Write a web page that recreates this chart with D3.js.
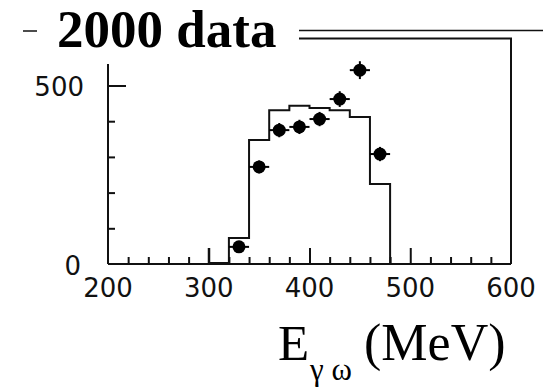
<!DOCTYPE html>
<html>
<head>
<meta charset="utf-8">
<script src="https://cdn.jsdelivr.net/npm/d3@7"></script>
<style>
  body { margin: 0; background: #fff; }
  svg { display: block; }
</style>
</head>
<body>
<svg></svg>
<script>
// MC histogram (20 MeV bins) and 2000 data points
const binEdges = [300, 320, 340, 360, 380, 400, 420, 440, 460, 480];
const mcValues = [3, 73, 347, 431, 443, 437, 431, 412, 224];
const mcStart = 45; // left edge of histogram starts a bit above zero
const dataE = [330, 350, 370, 390, 410, 430, 450, 470];
const dataN = [48, 272, 375, 384, 406, 462, 543, 308];
const dataErr = [12, 18, 20, 20, 20, 22, 25, 20];
const xTickLabels = [200, 300, 400, 500, 600];
const yTickLabels = [0, 500];

const W = 543, H = 390;
const svg = d3.select('svg').attr('width', W).attr('height', H);

const x = d3.scaleLinear().domain([200, 600]).range([108, 511]);
const y = d3.scaleLinear().domain([0, 500]).range([264, 85.5]);

const ink = '#111';

// slide decoration: title and rules
svg.append('text')
  .attr('x', 57).attr('y', 47)
  .attr('font-family', 'Liberation Serif, Times New Roman, serif')
  .attr('font-weight', 'bold')
  .attr('font-size', 53)
  .attr('fill', '#000')
  .text('2000 data');

svg.append('line').attr('x1', 23).attr('x2', 37).attr('y1', 31).attr('y2', 31)
  .attr('stroke', ink).attr('stroke-width', 1.5);
svg.append('line').attr('x1', 299).attr('x2', 543).attr('y1', 30.5).attr('y2', 30.5)
  .attr('stroke', ink).attr('stroke-width', 1.5);

// frame: top rule + right side, left axis, bottom axis
svg.append('path')
  .attr('d', `M299,38.5H${x(600)}V${y(0)}`)
  .attr('fill', 'none').attr('stroke', ink).attr('stroke-width', 2);
svg.append('line')
  .attr('x1', x(200)).attr('x2', x(200)).attr('y1', y(0)).attr('y2', y(560))
  .attr('stroke', ink).attr('stroke-width', 2);
svg.append('line')
  .attr('x1', x(200)).attr('x2', x(600)).attr('y1', y(0)).attr('y2', y(0))
  .attr('stroke', ink).attr('stroke-width', 2);

// ticks
const xMinor = d3.range(220, 600, 20).filter(d => d % 100 !== 0);
const xMajor = [300, 400, 500];
const axisStyle = g => {
  g.select('.domain').remove();
  g.style('color', ink);
  g.selectAll('line').attr('stroke-width', 2);
};
svg.append('g').attr('transform', `translate(0,${y(0)})`)
  .call(d3.axisBottom(x).tickValues(xMinor).tickSize(-7).tickFormat(''))
  .call(axisStyle);
svg.append('g').attr('transform', `translate(0,${y(0)})`)
  .call(d3.axisBottom(x).tickValues(xMajor).tickSize(-16).tickFormat(''))
  .call(axisStyle);
svg.append('g').attr('transform', `translate(${x(200)},0)`)
  .call(d3.axisLeft(y).tickValues([100, 200, 300, 400]).tickSize(-7).tickFormat(''))
  .call(axisStyle);
svg.append('g').attr('transform', `translate(${x(200)},0)`)
  .call(d3.axisLeft(y).tickValues([500]).tickSize(-18).tickFormat(''))
  .call(axisStyle);

// tick labels
const labelFont = 'DejaVu Sans, Verdana, sans-serif';
svg.append('g').selectAll('text').data(xTickLabels).join('text')
  .attr('x', d => x(d)).attr('y', 297)
  .attr('text-anchor', 'middle')
  .attr('font-family', labelFont).attr('font-size', 26)
  .attr('fill', ink)
  .text(d => d);
svg.append('g').selectAll('text').data(yTickLabels).join('text')
  .attr('x', d => d === 0 ? 81 : 84)
  .attr('y', d => y(d) + (d === 0 ? 11 : 10))
  .attr('text-anchor', 'end')
  .attr('font-family', labelFont).attr('font-size', 26)
  .attr('fill', ink)
  .text(d => d);

// MC histogram
const histPts = binEdges.map((e, i) => [e, i < mcValues.length ? mcValues[i] : 0]);
const step = d3.line().x(d => x(d[0])).y(d => y(d[1])).curve(d3.curveStepAfter);
svg.append('path')
  .attr('d', `M${x(binEdges[0])},${y(mcStart)}L` + step(histPts).slice(1))
  .attr('fill', 'none').attr('stroke', ink).attr('stroke-width', 2);

// data points with error bars
const pts = dataE.map((e, i) => ({ e, n: dataN[i], err: dataErr[i] }));
const pg = svg.append('g');
pg.selectAll('line.h').data(pts).join('line').attr('class', 'h')
  .attr('x1', d => x(d.e - 10)).attr('x2', d => x(d.e + 10))
  .attr('y1', d => y(d.n)).attr('y2', d => y(d.n))
  .attr('stroke', '#000').attr('stroke-width', 2);
pg.selectAll('line.v').data(pts).join('line').attr('class', 'v')
  .attr('x1', d => x(d.e)).attr('x2', d => x(d.e))
  .attr('y1', d => y(d.n - d.err)).attr('y2', d => y(d.n + d.err))
  .attr('stroke', '#000').attr('stroke-width', 2);
pg.selectAll('circle').data(pts).join('circle')
  .attr('cx', d => x(d.e)).attr('cy', d => y(d.n))
  .attr('r', 6.5).attr('fill', '#000');

// axis title E_γω (MeV)
const serif = 'Liberation Serif, Times New Roman, serif';
svg.append('text').attr('x', 278).attr('y', 360)
  .attr('font-family', serif).attr('font-size', 51).attr('fill', '#000')
  .text('E');
svg.append('text').attr('x', 310).attr('y', 380)
  .attr('font-family', serif).attr('font-size', 31).attr('fill', '#000')
  .text('γ ω');
svg.append('text').attr('x', 364).attr('y', 360)
  .attr('font-family', serif).attr('font-size', 52).attr('fill', '#000')
  .text('(MeV)');
</script>
</body>
</html>
